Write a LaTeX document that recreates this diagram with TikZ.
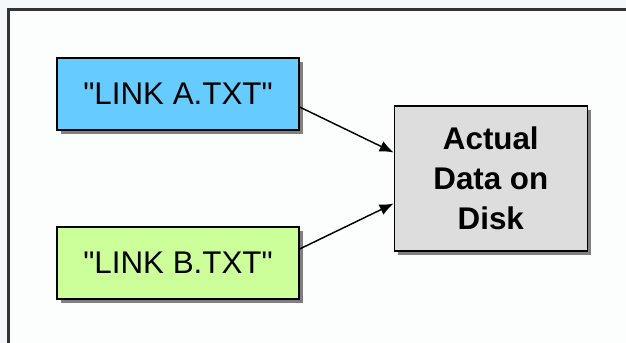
\documentclass[tikz,border=0pt]{standalone}
\usepackage{fontspec}
\setmainfont{Liberation Sans}
\usetikzlibrary{shadows, arrows.meta, calc}
\definecolor{frameBack}{RGB}{244, 248, 252}
\definecolor{frameInner}{RGB}{252, 253, 253}
\definecolor{frameLine}{RGB}{51, 51, 51}
\definecolor{linkBlue}{RGB}{102, 204, 255}
\definecolor{linkGreen}{RGB}{204, 255, 153}
\definecolor{diskGrey}{RGB}{221, 221, 221}
\newcommand{\lLinkA}{\textquotedbl LINK A.TXT\textquotedbl}
\newcommand{\lLinkB}{\textquotedbl LINK B.TXT\textquotedbl}
\begin{document}
\begin{tikzpicture} [
        x=0.75pt, y=-0.75pt,
        %font=\small,
        box/.style={draw, line width=1pt, drop shadow={shadow xshift=3pt, shadow yshift=-3pt, fill=black!50, opacity=1}},
        link file/.style={box, minimum width=181.5pt, minimum height=54pt, font=\fontsize{23.5}{28}\selectfont},
        disk data/.style={box, fill=diskGrey, minimum width=144.75pt, minimum height=108.75pt, align=center, font=\fontsize{23.5}{30}\selectfont\bfseries},
        link arrow/.style={-{Latex[length=10.5pt, width=8.5pt]}, line width=1.1pt},
    ]

    \useasboundingbox (0,0) rectangle (626,343);
    \fill[frameBack] (0,0) rectangle (626,343);
    \draw[frameLine, fill=frameInner, line width=2.5pt] (8.7,9.5) rectangle (660,380);

    \path (178,94) node[link file, fill=linkBlue] (link a) {\lLinkA};
    \path (link a) ++(0,169) node[link file, fill=linkGreen] (link b) {\lLinkB};

    \path (link a.east) ++(94,84.5) node[disk data, anchor=west] (disk) {Actual\\Data on\\Disk};

    \draw[link arrow] ([yshift=-9.75pt]link a.east) -- ([yshift=19.5pt]disk.west);
    \draw[link arrow] ([yshift=10.5pt]link b.east) -- ([yshift=-18.75pt]disk.west);

\end{tikzpicture}
\end{document}
